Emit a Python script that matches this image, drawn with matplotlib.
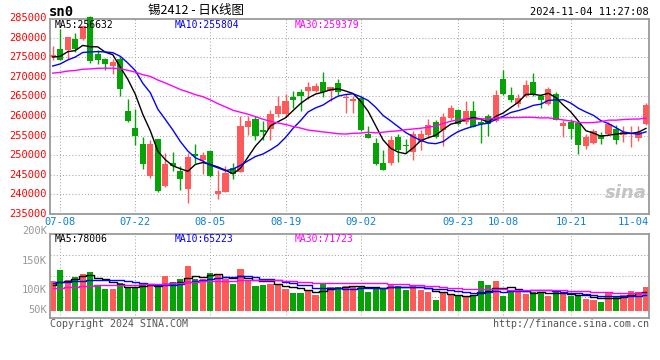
import numpy as np
import pandas as pd
import matplotlib
matplotlib.use('Agg')
import matplotlib.pyplot as plt
import matplotlib.transforms as mtransforms

# trading days shown in the chart (07-05 .. 11-04)
dates = ['07-05',
         '07-08', '07-09', '07-10', '07-11', '07-12',
         '07-15', '07-16', '07-17', '07-18', '07-19',
         '07-22', '07-23', '07-24', '07-25', '07-26',
         '07-29', '07-30', '07-31', '08-01', '08-02',
         '08-05', '08-06', '08-07', '08-08', '08-09',
         '08-12', '08-13', '08-14', '08-15', '08-16',
         '08-19', '08-20', '08-21', '08-22', '08-23',
         '08-26', '08-27', '08-28', '08-29', '08-30',
         '09-02', '09-03', '09-04', '09-05', '09-06',
         '09-09', '09-10', '09-11', '09-12', '09-13',
         '09-18', '09-19', '09-20',
         '09-23', '09-24', '09-25', '09-26', '09-27', '09-30',
         '10-08', '10-09', '10-10', '10-11',
         '10-14', '10-15', '10-16', '10-17', '10-18',
         '10-21', '10-22', '10-23', '10-24', '10-25',
         '10-28', '10-29', '10-30', '10-31', '11-01', '11-04']

opens = [275000, 277100, 276770, 279570, 279570, 285300, 275900, 274640, 272680, 274640,
         261190, 256850, 252850, 244600, 254130, 242040, 248090, 246050, 241450, 250300,
         248850, 251060, 240170, 240680, 246720, 245700, 257190, 259240, 256340, 256770,
         260600, 260600, 264860, 266050, 266390, 266390, 268600, 266390, 268430, 264520,
         263750, 264600, 255320, 253110, 248090, 248000, 254640, 252550, 250810, 253360,
         255070, 258390, 256340, 259580, 261450, 258470, 261280, 258390, 260000, 258600,
         269450, 265280, 263150, 265110, 268600, 265030, 262980, 265540, 257360, 258470,
         258220, 252430, 253110, 255070, 255490, 256600, 255070, 255320, 254470, 258050]
highs = [277900, 282300, 280300, 281190, 283100, 285600, 276770, 274900, 274640, 275060,
         264260, 261870, 254640, 253800, 254200, 250550, 250810, 247320, 250550, 252860,
         250880, 251300, 246130, 247320, 248090, 259920, 259920, 260000, 258730, 261450,
         265110, 265540, 266390, 266990, 268690, 268430, 271240, 267500, 269370, 265540,
         265110, 265030, 257530, 254470, 251240, 254980, 255490, 254130, 256260, 256340,
         259240, 259070, 260770, 262730, 261790, 263920, 263750, 259580, 260600, 266730,
         271840, 267410, 265540, 269200, 270990, 265540, 267500, 266050, 258900, 259330,
         258640, 255320, 256770, 255920, 258470, 257790, 257450, 257360, 257360, 263320]
lows = [274300, 274200, 274640, 276340, 279400, 273500, 273360, 271660, 270800, 265100,
        258400, 252520, 246560, 244170, 240600, 241900, 245870, 241190, 237880, 248080,
        245100, 244500, 238890, 240600, 244000, 245600, 255060, 253960, 253790, 253960,
        259750, 259750, 262050, 261280, 264430, 266200, 264860, 263830, 265370, 260860,
        260860, 256170, 254400, 247570, 246130, 247400, 248170, 250560, 248680, 251410,
        254470, 254300, 252430, 259070, 257620, 258050, 257100, 253190, 254980, 258500,
        265450, 263580, 262300, 264860, 265030, 262130, 262730, 258900, 254640, 254210,
        250390, 251660, 252940, 252940, 255070, 252940, 253360, 252090, 253530, 257620]
closes = [275600, 274380, 280170, 277020, 282980, 273960, 274200, 273360, 273790, 266980,
          258640, 254980, 247660, 252850, 240940, 247750, 247150, 244000, 249530, 249790,
          250130, 244600, 240850, 245450, 245110, 257370, 258730, 254980, 256000, 260430,
          262560, 263750, 264170, 265030, 267410, 267670, 266130, 267330, 266220, 264600,
          264430, 256340, 254470, 247830, 246300, 253880, 251410, 252430, 255320, 255410,
          257700, 254560, 259830, 262050, 257870, 261190, 257190, 257870, 257870, 265370,
          265620, 264170, 264600, 267830, 265540, 264170, 266900, 259070, 258220, 256770,
          252510, 254640, 256090, 254210, 258050, 253790, 255920, 255750, 255920, 262820]
volumes = [123300, 168900, 127400, 139900, 153600, 160600, 106700, 90100, 90100, 115000,
           99600, 99600, 106700, 102500, 99600, 145300, 119100, 131600, 186800, 131600,
           131600, 157700, 148200, 131600, 112100, 173100, 123300, 103800, 106700, 112100,
           107900, 91300, 74700, 74700, 87200, 63500, 116200, 98400, 99600, 103800,
           99600, 103800, 78900, 99600, 90100, 112100, 103800, 87200, 103800, 87200,
           78900, 44400, 78900, 63500, 63500, 62300, 62300, 123300, 106700, 123300,
           62300, 78900, 78900, 69300, 78900, 74700, 62300, 78900, 69300, 62300,
           62300, 48600, 44400, 37400, 71800, 62300, 66400, 83000, 78900, 99600]

# the 29 sessions before the window, only used so the MA lines start at the left edge
prev_closes = [268500, 270200, 272800, 273500, 271000, 269800, 272400, 274100, 271100,
               270500, 268900, 267300, 266100, 268800, 270400, 271600, 269500, 268200, 270400,
               266000, 268900, 270100, 269600, 271300, 272400,
               273500, 274200, 275600, 276400]
prev_volumes = [88000, 76000, 92000, 71000, 84000, 79000, 95000, 68000, 82000, 74000,
                86000, 77000, 90000, 70000, 83000, 75000, 87000, 72000, 81000, 84000,
                128000, 119000, 131000, 122000, 129000,
                98000, 106000, 101000, 105000]

tick_dates = ['07-08', '07-22', '08-05', '08-19', '09-02', '09-23', '10-08', '10-21', '11-04']
price_ticks = [235000, 240000, 245000, 250000, 255000, 260000, 265000, 270000, 275000, 280000, 285000]
vol_labels = ['200K', '150K', '100K', '50K']
price_ma_text = ['MA5:256632', 'MA10:255804', 'MA30:259379']
vol_ma_text = ['MA5:78006', 'MA10:65223', 'MA30:71723']

RED = '#ff5a5a'
GREEN = '#06a306'
GRID = '#a8a8a8'
MONO = 'DejaVu Sans Mono'
MA_COLORS = ['black', '#0000ff', '#ff00ff']

n = len(dates)
x = np.arange(n)
o = np.array(opens); c = np.array(closes)
up = c >= o
colors = np.where(up, RED, GREEN)

all_c = pd.Series(prev_closes + closes, dtype=float)
all_v = pd.Series(prev_volumes + volumes, dtype=float)
k = len(prev_closes)
price_mas = [all_c.rolling(w).mean().values[k:] for w in (5, 10, 30)]
vol_mas = [all_v.rolling(w).mean().values[k:] for w in (5, 10, 30)]

W, H = 660, 360
fig = plt.figure(figsize=(W / 100, H / 100), dpi=100)
fig.patch.set_facecolor('white')


def box(l, t, r, b):
    return [l / W, 1 - b / H, (r - l) / W, (b - t) / H]


def ftext(px, py, s, **kw):
    fig.text(px / W, 1 - py / H, s, **kw)


ax = fig.add_axes(box(50, 19, 649.3, 213.5))
axv = fig.add_axes(box(50, 234.3, 649.3, 318.3))

for a in (ax, axv):
    a.set_xlim(-0.36, 79.44)
    a.set_xticks([]); a.set_yticks([])
    for s in a.spines.values():
        s.set_color('#9a9a9a'); s.set_linewidth(1.3)
    for d in tick_dates[:-1]:
        a.axvline(dates.index(d), color=GRID, lw=0.75, ls=(0, (1, 2)), zorder=0)

# price panel
ax.set_ylim(235100, 284780)
for p in price_ticks[1:-1]:
    ax.axhline(p, color=GRID, lw=0.75, ls=(0, (1, 2)), zorder=0)

ax.vlines(x, lows, highs, colors=colors, lw=1, zorder=2, clip_on=False)
ax.bar(x, np.maximum(np.abs(c - o), 250), bottom=np.minimum(o, c), width=0.82,
       color=colors, zorder=3, clip_on=False)
for m, col in zip(price_mas, MA_COLORS):
    ax.plot(x, m, color=col, lw=1, zorder=4)

ytr = mtransforms.blended_transform_factory(ax.transAxes, ax.transData)
for p in price_ticks:
    ax.text(-0.005, p, str(p), transform=ytr, ha='right', va='center', color='#ff0000',
            fontsize=7.5, family=MONO, clip_on=False)

xtr = mtransforms.blended_transform_factory(ax.transData, ax.transAxes)
for d in tick_dates[:-1]:
    ax.text(dates.index(d), -0.043, d, transform=xtr, ha='center', va='center',
            color='#0b80d8', fontsize=7.5, family=MONO)
ax.text(1.0, -0.043, tick_dates[-1], transform=ax.transAxes, ha='right', va='center',
        color='#0b80d8', fontsize=7.5, family=MONO)

ax.text(0.995, 0.06, 'sina', transform=ax.transAxes, ha='right', va='bottom',
        fontsize=13, fontweight='bold', style='italic', color='#c4c4c4', zorder=1)

# volume panel
axv.set_ylim(-31500, 317000)
for f in (0.25, 0.5, 0.75):
    axv.axhline(-31500 + f * 348500, color=GRID, lw=0.75, ls=(0, (1, 2)), zorder=0)
axv.bar(x, volumes, width=0.82, color=colors, zorder=2)
for m, col in zip(vol_mas, MA_COLORS):
    axv.plot(x, m, color=col, lw=1, drawstyle='steps-mid', zorder=3)

for lab, yf in zip(vol_labels, (1.04, 0.682, 0.337, 0.099)):
    axv.text(-0.005, yf, lab, transform=axv.transAxes, ha='right', va='center',
             color='#999999', fontsize=7.5, family=MONO, clip_on=False)

# legends and headers
for s, xp, col in zip(price_ma_text, (55, 175, 295), MA_COLORS):
    ftext(xp, 24.5, s, ha='left', va='center', color=col, fontsize=7, family=MONO)
for s, xp, col in zip(vol_ma_text, (55, 175, 295), MA_COLORS):
    ftext(xp, 239, s, ha='left', va='center', color=col, fontsize=7, family=MONO)

ftext(49, 12, 'sn0', ha='left', va='center', fontsize=10, fontweight='bold', family=MONO)
ftext(196, 10, '锡2412 - 日K线图', ha='center', va='center', fontsize=9,
      family=['Noto Sans CJK SC', 'DejaVu Sans'])
ftext(649, 12, '2024-11-04 11:27:08', ha='right', va='center', fontsize=7.5, family=MONO)
ftext(50, 324, 'Copyright 2024 SINA.COM', ha='left', va='center', fontsize=7.2,
      family=MONO, color='#555555')
ftext(649, 324, 'http://finance.sina.com.cn', ha='right', va='center', fontsize=7.2,
      family=MONO, color='#555555')

fig.savefig('out.png', dpi=100, facecolor='white')
